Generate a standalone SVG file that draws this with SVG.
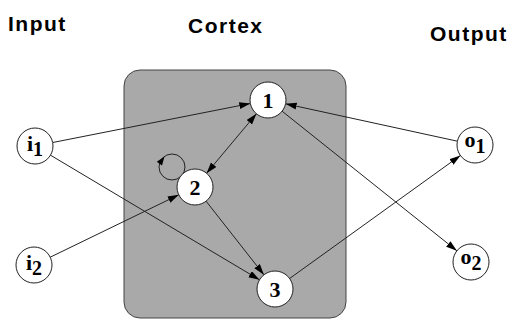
<svg xmlns="http://www.w3.org/2000/svg" width="511" height="320" viewBox="0 0 511 320">
<style>
.title{font-family:"Liberation Sans",Arial,sans-serif;font-weight:bold;font-size:21px;letter-spacing:1.5px;fill:#000}
.node circle{fill:#fff;stroke:#222;stroke-width:1}
.lbl{font-family:"Liberation Serif","Times New Roman",serif;font-weight:bold;font-size:22px;fill:#000;text-anchor:middle}
.edge{fill:none;stroke:#222;stroke-width:1}
</style>
<defs>
<marker id="ah" markerUnits="userSpaceOnUse" markerWidth="12" markerHeight="8" refX="11" refY="3.5" orient="auto-start-reverse">
<path d="M0,0 L11,3.5 L0,7 z" fill="#000"/>
</marker>
</defs>
<rect x="124" y="70" width="222" height="248" rx="16" ry="16" fill="#a9a9a9" stroke="#444" stroke-width="1"/>
<text class="title" x="8" y="31">Input</text>
<text class="title" x="188" y="33">Cortex</text>
<text class="title" x="430" y="41">Output</text>
<g id="connectors">
<line class="edge" x1="52.7" y1="142.5" x2="250.3" y2="103.5" marker-end="url(#ah)"/>
<line class="edge" x1="50.5" y1="155.2" x2="259.5" y2="279.8" marker-end="url(#ah)"/>
<line class="edge" x1="50.2" y1="257.2" x2="178.8" y2="194.8" marker-end="url(#ah)"/>
<line class="edge" x1="256.4" y1="113.8" x2="206.6" y2="173.2" marker-start="url(#ah)" marker-end="url(#ah)"/>
<line class="edge" x1="206.1" y1="201.2" x2="263.9" y2="274.8" marker-end="url(#ah)"/>
<line class="edge" x1="282.1" y1="111.2" x2="456.9" y2="250.8" marker-end="url(#ah)"/>
<line class="edge" x1="289.6" y1="278.5" x2="460.4" y2="155.5" marker-end="url(#ah)"/>
<line class="edge" x1="457.4" y1="141.2" x2="285.6" y2="103.8" marker-end="url(#ah)"/>
<circle class="edge" cx="172" cy="167" r="13"/>
<polygon points="164.5,156.4 162.0,165.5 156.8,161.7" fill="#000"/>
</g>
<g id="node-i1" class="node"><circle cx="35" cy="146" r="18"/><text class="lbl" x="35" y="151">i<tspan font-size="20" dy="5">1</tspan></text></g>
<g id="node-i2" class="node"><circle cx="34" cy="265" r="18"/><text class="lbl" x="34" y="270">i<tspan font-size="20" dy="5">2</tspan></text></g>
<g id="node-1" class="node"><circle cx="268" cy="100" r="18"/><text class="lbl" x="268" y="107.5">1</text></g>
<g id="node-2" class="node"><circle cx="195" cy="187" r="18"/><text class="lbl" x="195" y="194.5">2</text></g>
<g id="node-3" class="node"><circle cx="275" cy="289" r="18"/><text class="lbl" x="275" y="296.5">3</text></g>
<g id="node-o1" class="node"><circle cx="475" cy="145" r="18"/><text class="lbl" x="475" y="147">o<tspan font-size="20" dy="6">1</tspan></text></g>
<g id="node-o2" class="node"><circle cx="471" cy="262" r="18"/><text class="lbl" x="471" y="264">o<tspan font-size="20" dy="6">2</tspan></text></g>
</svg>
